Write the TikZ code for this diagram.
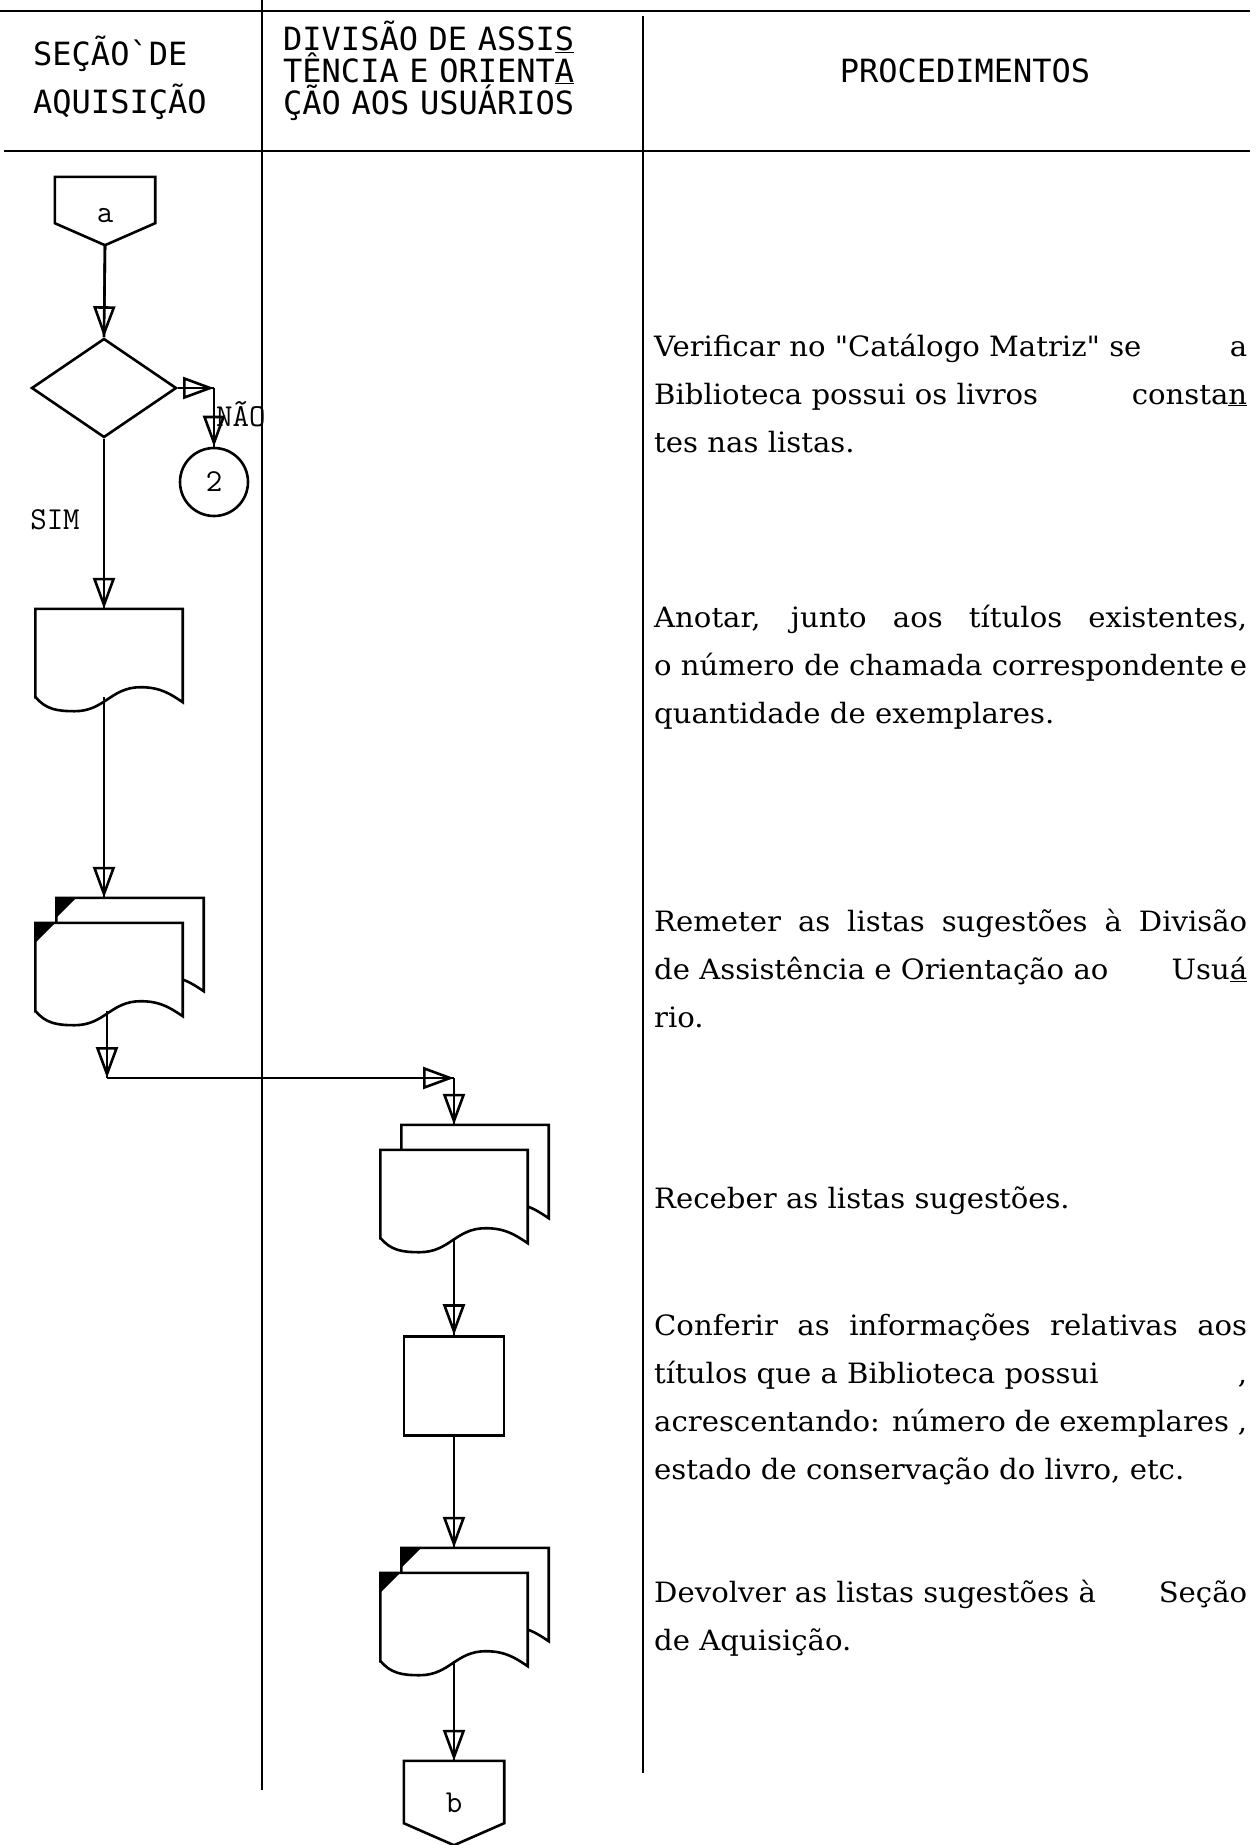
\documentclass[tikz,border=0pt]{standalone}
\usepackage{fontspec}
\usepackage{tikz}
\usetikzlibrary{arrows.meta, shapes.geometric}

\newfontfamily\cabfont{DejaVu Sans Mono}
\newfontfamily\procfont{DejaVu Serif}[FakeStretch=1.04]

\newlength{\larg}\setlength{\larg}{593pt}
\newcommand{\cheia}[1]{{\spaceskip=0pt\xspaceskip=0pt\makebox[\larg][s]{#1}}}
\newcommand{\apertado}{\setlength{\lineskiplimit}{-40pt}}

% document symbol drawn round an empty node
\newcommand{\folha}[1]{%
  \draw[linha, fill=white] (#1.south west) -- (#1.north west) -- (#1.north east)
    -- ([yshift=-5pt]#1.south east)
    .. controls +(-12,-8) and +(20,0) .. ++(-42,-15)
    .. controls +(-30,0) and +(30,0) .. ++(-66,24)
    .. controls +(-18,0) and +(10,12) .. ++(-39,-14) -- cycle;}
\newcommand{\canto}[1]{\fill (#1.north west) -- ++(20,0) -- ++(-20,20) -- cycle;}

\begin{document}
\begin{tikzpicture}[x=1pt, y=-1pt,
    linha/.style={line width=2.6pt},
    fluxo/.style={linha, postaction={draw, -{Triangle[open, length=31pt, width=22pt]}}},
    folhanode/.style={minimum width=147pt, minimum height=88pt, inner sep=0pt},
    decisao/.style={diamond, draw, linha, minimum width=145pt, minimum height=99pt, inner sep=0pt},
    processo/.style={rectangle, draw, linha, minimum width=100pt, minimum height=99pt},
    conector/.style={circle, draw, linha, minimum size=68pt, inner sep=0pt, font=\ttfamily\fontsize{32}{32}\selectfont},
    pagina/.style={minimum width=100pt, inner sep=0pt, font=\ttfamily\fontsize{32}{32}\selectfont},
    rotulo/.style={inner sep=0pt, font=\ttfamily\fontsize{32}{32}\selectfont},
    cab/.style={inner sep=0pt, anchor=base west, align=left, font=\cabfont\fontsize{32}{32}\selectfont},
    proc/.style={inner sep=0pt, anchor=base west, text width=593pt, align=left, font=\procfont\fontsize{28}{48}\selectfont}
]
\useasboundingbox (0,0) rectangle (1256,1845);

% table lines
\draw[linha] (0,11) -- (1250,11);
\draw[linha] (4,151) -- (1250,151);
\draw[linha] (262,0) -- (262,1790);
\draw[linha] (643,16) -- (643,1773);

% headers
\node[cab, text width=220pt, font=\cabfont\fontsize{32}{48}\selectfont] (hsecao) at (33,65) {SEÇÃO\textasciigrave DE\\AQUISIÇÃO};
\node[cab, text width=340pt] (hdiv) at (283,50) {\apertado DIVISÃO DE ASSI\underline{S}\\TÊNCIA E ORIENT\underline{A}\\ÇÃO AOS USUÁRIOS};
\node[cab, anchor=center] (hproc) at (965,71) {PROCEDIMENTOS};

% Secao de Aquisicao
\node[pagina, minimum height=68pt] (a) at (105,211) {\smash{\raisebox{-11pt}{a}}};
\draw[linha] (a.north west) -- (a.north east) -- ([yshift=22pt]a.south east) -- (a.south) -- ([yshift=22pt]a.south west) -- cycle;
\node[decisao] (dia) at (104,388) {};
\node[conector] (c2) at (214,482) {2};
\node[rotulo, anchor=west] (nao) at (216,414) {NÃO};
\node[rotulo] (sim) at (55,520) {SIM};

\node[folhanode] (doc1) at (109,653) {};
\folha{doc1}
\node[folhanode] (doc2t) at (130,942) {};
\node[folhanode] (doc2) at (109,967) {};
\folha{doc2t}\canto{doc2t}
\folha{doc2}\canto{doc2}

% Divisao de Assistencia
\node[folhanode] (doc3t) at (475,1169) {};
\node[folhanode] (doc3) at (454,1194) {};
\folha{doc3t}
\folha{doc3}
\node[processo] (proc) at (454,1386) {};
\node[folhanode] (doc4t) at (475,1592) {};
\node[folhanode] (doc4) at (454,1617) {};
\folha{doc4t}\canto{doc4t}
\folha{doc4}\canto{doc4}
\node[pagina, minimum height=84pt] (b) at (454,1803) {b};
\draw[linha] (b.north west) -- (b.north east) -- ([yshift=22pt]b.south east) -- (b.south) -- ([yshift=22pt]b.south west) -- cycle;

% connectors
\coordinate (nao-c) at (c2.north |- dia.east);
\coordinate (desvio1) at (107,1078);
\coordinate (desvio2) at (proc.center |- desvio1);
\draw[fluxo] (a.south) -- (dia.north);
\draw[fluxo] (dia.east) -- (nao-c);
\draw[fluxo] (nao-c) -- (c2.north);
\draw[fluxo] (dia.south) -- (dia.south |- doc1.north);
\draw[fluxo] (dia.south |- doc1.south) -- (dia.south |- doc2t.north);
\draw[fluxo] (desvio1 |- doc2.south) -- (desvio1);
\draw[fluxo] (desvio1) -- (desvio2);
\draw[fluxo] (desvio2) -- (desvio2 |- doc3t.north);
\draw[fluxo] (doc3.south) -- (proc.north);
\draw[fluxo] (proc.south) -- (proc.south |- doc4t.north);
\draw[fluxo] (doc4.south) -- (b.north);

% procedures
\node[proc] (p1) at (654,356) {\cheia{Verificar no "Catálogo Matriz" se\hfill a}\\
  \cheia{Biblioteca possui os livros\hfill consta\underline{n}}\\
  tes nas listas.};
\node[proc] (p2) at (654,627) {\cheia{Anotar, junto aos títulos existentes,}\\
  \cheia{o número de chamada correspondente\hfill e}\\
  quantidade de exemplares.};
\node[proc] (p3) at (654,931) {\cheia{Remeter as listas sugestões à Divisão}\\
  \cheia{de Assistência e Orientação ao\hfill Usu\underline{á}}\\
  rio.};
\node[proc] (p4) at (654,1208) {Receber as listas sugestões.};
\node[proc] (p5) at (654,1335) {\cheia{Conferir as informações relativas aos}\\
  \cheia{títulos que a Biblioteca possui\hfill ,}\\
  \cheia{acrescentando: número de exemplares ,}\\
  estado de conservação do livro, etc.};
\node[proc] (p6) at (654,1602) {\cheia{Devolver as listas sugestões à\hfill Seção}\\
  de Aquisição.};
\end{tikzpicture}
\end{document}
